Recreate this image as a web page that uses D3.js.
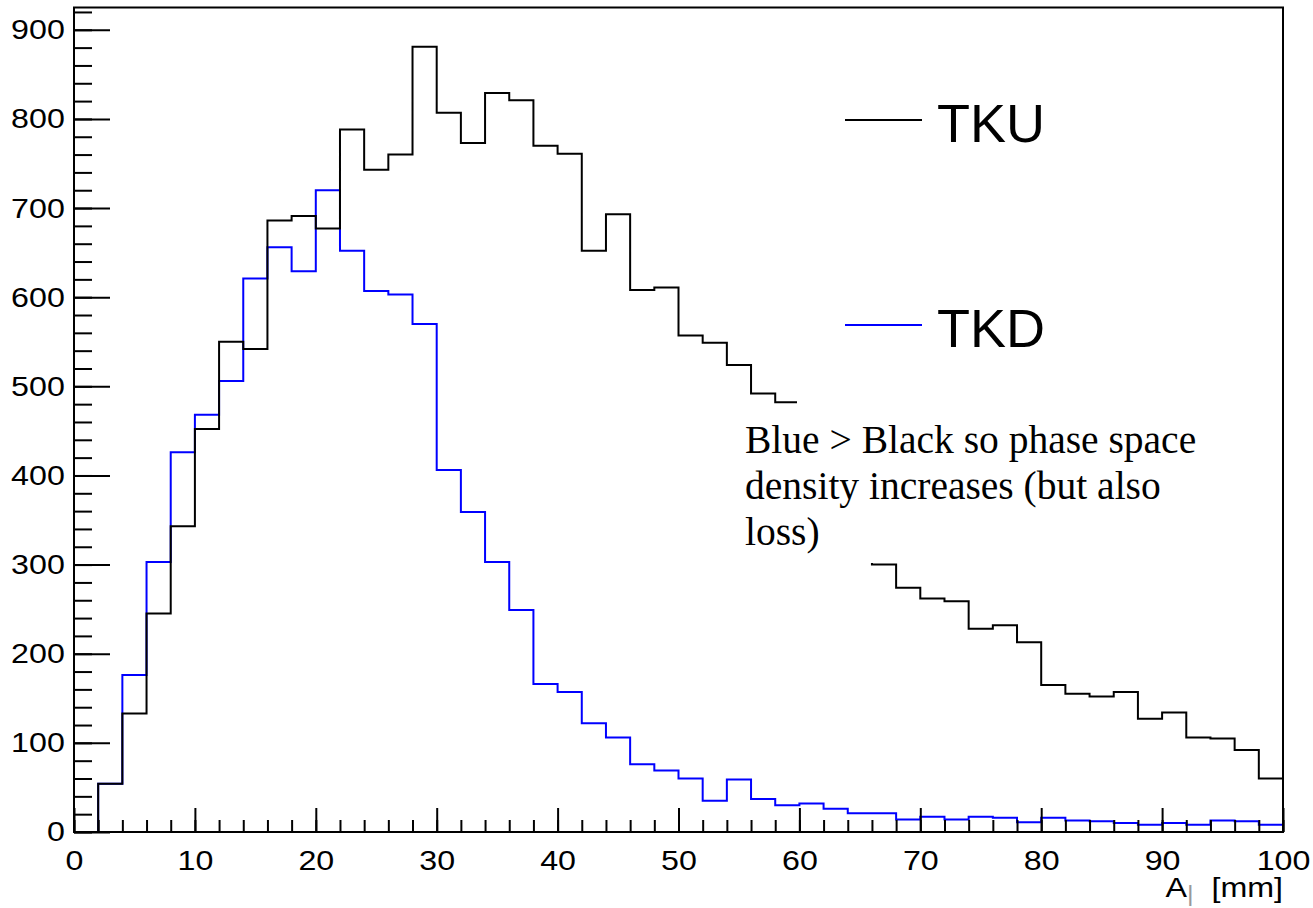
<!DOCTYPE html>
<html>
<head>
<meta charset="utf-8">
<script src="https://cdn.jsdelivr.net/npm/d3@7"></script>
<style>
  html, body { margin: 0; padding: 0; background: #fff; }
  svg { display: block; }
</style>
</head>
<body>
<svg id="chart" width="1313" height="908"></svg>
<script>
// === DATA ===
// bin low edges, 2 mm wide bins from 0 to 100
const binWidth = 2;
const binLow = d3.range(0, 100, binWidth);

// TKU counts per bin (black)
const tku = [0, 54, 133, 245, 343, 452, 550, 542, 686, 691,
             677, 788, 743, 760, 881, 807, 773, 829, 821, 770,
             761, 652, 693, 608, 611, 557, 549, 524, 492, 482,
             455, 410, 355, 300, 274, 262, 259, 228, 232, 213,
             165, 155, 152, 157, 127, 134, 106, 105, 92, 60];

// TKD counts per bin (blue)
const tkd = [0, 54, 176, 303, 426, 468, 506, 621, 656, 629,
             720, 652, 607, 603, 570, 406, 359, 303, 249, 166,
             157, 122, 106, 76, 69, 60, 35, 59, 37, 30,
             32, 26, 21, 21, 14, 17, 14, 17, 16, 11,
             16, 13, 12, 10, 8, 10, 8, 13, 12, 8];

const xMajor = [0, 10, 20, 30, 40, 50, 60, 70, 80, 90, 100];
const yMajor = [0, 100, 200, 300, 400, 500, 600, 700, 800, 900];
const yMinor = d3.range(0, 921, 20);
const xMinor = d3.range(0, 101, 2);

const legendItems = [
  { label: "TKU", color: "#000000", y: 120 },
  { label: "TKD", color: "#0000ff", y: 325 }
];
const noteLines = ["Blue > Black so phase space", "density increases (but also", "loss)"];

// === LAYOUT ===
const svg = d3.select("#chart");
const frame = { left: 74, right: 1283, top: 7.5, bottom: 832 };

const x = d3.scaleLinear().domain([0, 100]).range([frame.left, frame.right]);
const y = d3.scaleLinear().domain([0, 925]).range([frame.bottom, frame.top]);

// === HISTOGRAMS ===
function stepPoints(values) {
  const pts = [[binLow[0], 0]];
  values.forEach((v, i) => {
    pts.push([binLow[i], v]);
    pts.push([binLow[i] + binWidth, v]);
  });
  pts.push([binLow[binLow.length - 1] + binWidth, 0]);
  return pts;
}
const line = d3.line().x(d => x(d[0])).y(d => y(d[1]));

svg.append("path")
  .attr("d", line(stepPoints(tkd)))
  .attr("fill", "none")
  .attr("stroke", "#0000ff")
  .attr("stroke-width", 2);

svg.append("path")
  .attr("d", line(stepPoints(tku)))
  .attr("fill", "none")
  .attr("stroke", "#000000")
  .attr("stroke-width", 2);

// white note box pasted over the plot
svg.append("rect")
  .attr("x", 797).attr("y", 398)
  .attr("width", 444).attr("height", 165)
  .attr("fill", "#fff");

svg.append("g")
  .selectAll("text")
  .data(noteLines)
  .join("text")
  .attr("x", 745)
  .attr("y", (d, i) => 453 + i * 46)
  .attr("font-family", "'Liberation Serif', 'Times New Roman', serif")
  .attr("font-size", 39.5)
  .attr("fill", "#000")
  .text(d => d);

// === LEGEND ===
const leg = svg.append("g");
leg.selectAll("line")
  .data(legendItems)
  .join("line")
  .attr("x1", 845).attr("x2", 922)
  .attr("y1", d => d.y).attr("y2", d => d.y)
  .attr("stroke", d => d.color)
  .attr("stroke-width", 2);
leg.selectAll("text")
  .data(legendItems)
  .join("text")
  .attr("x", 937)
  .attr("y", d => d.y + 22)
  .attr("font-family", "'Liberation Sans', Arial, sans-serif")
  .attr("font-size", 54)
  .attr("fill", "#000")
  .text(d => d.label);

// === AXES ===
const labelFont = "'Liberation Sans', Arial, sans-serif";

const yAxis = svg.append("g")
  .attr("transform", `translate(${frame.left},0)`)
  .call(d3.axisLeft(y).tickValues(yMajor).tickSize(-36).tickPadding(9));
svg.append("g")
  .attr("transform", `translate(${frame.left},0)`)
  .call(d3.axisLeft(y).tickValues(yMinor).tickSize(-18).tickFormat(""));

const xAxis = svg.append("g")
  .attr("transform", `translate(0,${frame.bottom})`)
  .call(d3.axisBottom(x).tickValues(xMajor).tickSize(-24).tickPadding(10));
svg.append("g")
  .attr("transform", `translate(0,${frame.bottom})`)
  .call(d3.axisBottom(x).tickValues(xMinor).tickSize(-12).tickFormat(""));

svg.selectAll(".domain").remove();
svg.selectAll(".tick line").attr("stroke", "#000").attr("stroke-width", 2);
[yAxis, xAxis].forEach(g => g.selectAll("text")
  .attr("font-family", labelFont)
  .attr("font-size", 28)
  .attr("fill", "#000"));
yAxis.selectAll("text").attr("transform", "scale(1.15,1)").attr("x", -8);
xAxis.selectAll("text").attr("transform", "scale(1.15,1)").attr("dy", "1em");

// frame
svg.append("rect")
  .attr("x", frame.left).attr("y", frame.top)
  .attr("width", frame.right - frame.left)
  .attr("height", frame.bottom - frame.top)
  .attr("fill", "none")
  .attr("stroke", "#000")
  .attr("stroke-width", 2);

// x axis title
const title = svg.append("text")
  .attr("x", frame.right)
  .attr("y", 897)
  .attr("text-anchor", "end")
  .attr("font-family", labelFont)
  .attr("font-size", 28)
  .attr("fill", "#000")
  .attr("transform", `translate(${frame.right},0) scale(1.15,1) translate(${-frame.right},0)`);
title.append("tspan").text("A");
title.append("tspan").attr("dy", 4).attr("font-size", 22).attr("fill", "#999").text("|");
title.append("tspan").attr("dy", -4).text("  [mm]").attr("xml:space", "preserve");
</script>
</body>
</html>
